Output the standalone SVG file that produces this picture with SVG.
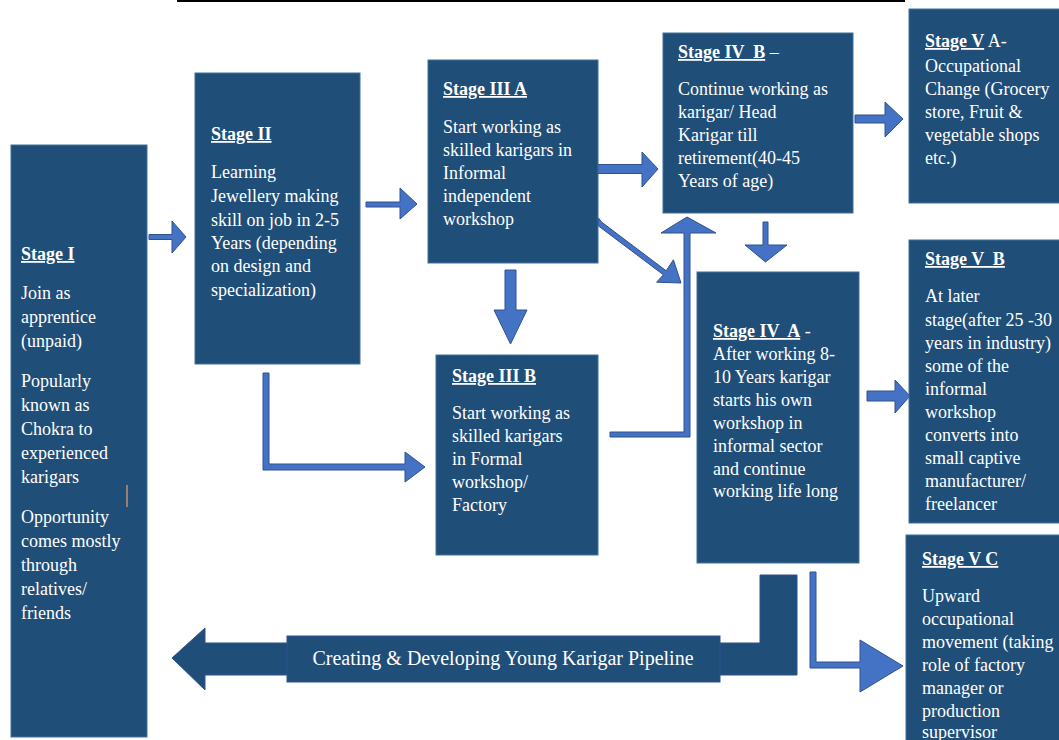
<svg xmlns="http://www.w3.org/2000/svg" width="1059" height="740" viewBox="0 0 1059 740">
<style>
.box{fill:#1F4E79;stroke:#41719C;stroke-width:1}
.arr{fill:#4472C4;stroke:#2F528F;stroke-width:1}
.pipe{fill:#1F4E79;stroke:#2F528F;stroke-width:1}
text{font-family:"Liberation Serif","Times New Roman",serif;font-size:18px;fill:#FFFFFF;white-space:pre}
.t{font-weight:bold;text-decoration:underline}
</style>
<rect x="177" y="0" width="728" height="2" fill="#000000"/>
<g id="connectors">
  <polygon class="arr" points="149,234.5 172,234.5 172,221 186,237 172,253 172,239.5 149,239.5"/>
  <polygon class="arr" points="366,202 400,202 400,188 417,204 400,219 400,207 366,207"/>
  <polygon class="arr" points="598,164.5 642,164.5 642,152 658,169 642,187 642,173.5 598,173.5"/>
  <polygon class="arr" points="855,115 885,115 885,102 903,119 885,137 885,123 855,123"/>
  <polygon class="arr" points="867,391 895,391 895,380 910,396 895,413 895,401 867,401"/>
  <polygon class="arr" points="505,270 516,270 516,310 527,310 510.5,344 494,310 505,310"/>
  <polygon class="arr" points="763,222 768,222 768,245 787,245 765.5,262 745,245 763,245"/>
  <polygon class="arr" points="263,373 269,373 269,464 405,464 405,452 425,467 405,482 405,470 263,470"/>
  <polygon class="arr" points="610,432 684,432 684,233 661,233 687,217 716,233 690,233 690,437 610,437"/>
  <polygon class="arr" points="598.5,218 601.5,222 666.2,270.8 673.4,259.8 681,283 656.6,282.2 663.4,274.8 598.5,226"/>
  <polygon class="arr" points="810,572 816,572 816,662 860,662 860,640 903,666 860,692 860,668 810,668"/>
</g>
<g id="pipeline">
  <polygon class="pipe" points="172,658 205,628 205,643 760,643 760,575 797,575 797,675 205,675 205,690"/>
  <rect class="pipe" x="287" y="636" width="433" height="46"/>
  <text x="503" y="665" text-anchor="middle" style="font-size:20px">Creating &amp; Developing Young Karigar Pipeline</text>
</g>
<g id="stage1">
  <rect class="box" x="11" y="145" width="136" height="592"/>
  <text x="21" y="260" class="t">Stage I</text>
  <text x="21" y="299">Join as</text>
  <text x="21" y="323">apprentice</text>
  <text x="21" y="347">(unpaid)</text>
  <text x="21" y="387">Popularly</text>
  <text x="21" y="411">known as</text>
  <text x="21" y="435">Chokra to</text>
  <text x="21" y="459">experienced</text>
  <text x="21" y="483">karigars</text>
  <text x="21" y="523">Opportunity</text>
  <text x="21" y="547">comes mostly</text>
  <text x="21" y="571">through</text>
  <text x="21" y="595">relatives/</text>
  <text x="21" y="619">friends</text>
  <line x1="127" y1="485" x2="127" y2="507" stroke="#C09070" stroke-width="1.5"/>
</g>
<g id="stage2">
  <rect class="box" x="195" y="73" width="165" height="291"/>
  <text x="211" y="140" class="t">Stage II</text>
  <text x="211" y="178">Learning</text>
  <text x="211" y="202">Jewellery making</text>
  <text x="211" y="226">skill on job in 2-5</text>
  <text x="211" y="249">Years (depending</text>
  <text x="211" y="272">on design and</text>
  <text x="211" y="296">specialization)</text>
</g>
<g id="stage3a">
  <rect class="box" x="428" y="60" width="170" height="203"/>
  <text x="443" y="95" class="t">Stage III A</text>
  <text x="443" y="133">Start working as</text>
  <text x="443" y="156">skilled karigars in</text>
  <text x="443" y="179">Informal</text>
  <text x="443" y="202">independent</text>
  <text x="443" y="225">workshop</text>
</g>
<g id="stage3b">
  <rect class="box" x="436" y="355" width="162" height="200"/>
  <text x="452" y="382" class="t">Stage III B</text>
  <text x="452" y="419">Start working as</text>
  <text x="452" y="442">skilled karigars</text>
  <text x="452" y="465">in Formal</text>
  <text x="452" y="488">workshop/</text>
  <text x="452" y="511">Factory</text>
</g>
<g id="stage4b">
  <rect class="box" x="663" y="33" width="190" height="180"/>
  <text x="678" y="58"><tspan class="t">Stage IV  B</tspan> –</text>
  <text x="678" y="95">Continue working as</text>
  <text x="678" y="118">karigar/ Head</text>
  <text x="678" y="141">Karigar till</text>
  <text x="678" y="164">retirement(40-45</text>
  <text x="678" y="187">Years of age)</text>
</g>
<g id="stage4a">
  <rect class="box" x="697" y="272" width="162" height="291"/>
  <text x="713" y="337"><tspan class="t">Stage IV  A</tspan> -</text>
  <text x="713" y="360">After working 8-</text>
  <text x="713" y="383">10 Years karigar</text>
  <text x="713" y="406">starts his own</text>
  <text x="713" y="429">workshop in</text>
  <text x="713" y="452">informal sector</text>
  <text x="713" y="475">and continue</text>
  <text x="713" y="497">working life long</text>
</g>
<g id="stage5a">
  <rect class="box" x="909" y="9" width="155" height="194"/>
  <text x="925" y="47"><tspan class="t">Stage V</tspan> A-</text>
  <text x="925" y="72">Occupational</text>
  <text x="925" y="95">Change (Grocery</text>
  <text x="925" y="118">store, Fruit &amp;</text>
  <text x="925" y="141">vegetable shops</text>
  <text x="925" y="164">etc.)</text>
</g>
<g id="stage5b">
  <rect class="box" x="909" y="240" width="155" height="283"/>
  <text x="925" y="265" class="t">Stage V  B</text>
  <text x="925" y="302">At later</text>
  <text x="925" y="326">stage(after 25 -30</text>
  <text x="925" y="349">years in industry)</text>
  <text x="925" y="372">some of the</text>
  <text x="925" y="395">informal</text>
  <text x="925" y="418">workshop</text>
  <text x="925" y="441">converts into</text>
  <text x="925" y="464">small captive</text>
  <text x="925" y="487">manufacturer/</text>
  <text x="925" y="510">freelancer</text>
</g>
<g id="stage5c">
  <rect class="box" x="906" y="535" width="158" height="210"/>
  <text x="922" y="565" class="t">Stage V C</text>
  <text x="922" y="602">Upward</text>
  <text x="922" y="625">occupational</text>
  <text x="922" y="648">movement (taking</text>
  <text x="922" y="671">role of factory</text>
  <text x="922" y="694">manager or</text>
  <text x="922" y="717">production</text>
  <text x="922" y="738">supervisor</text>
</g>
</svg>
